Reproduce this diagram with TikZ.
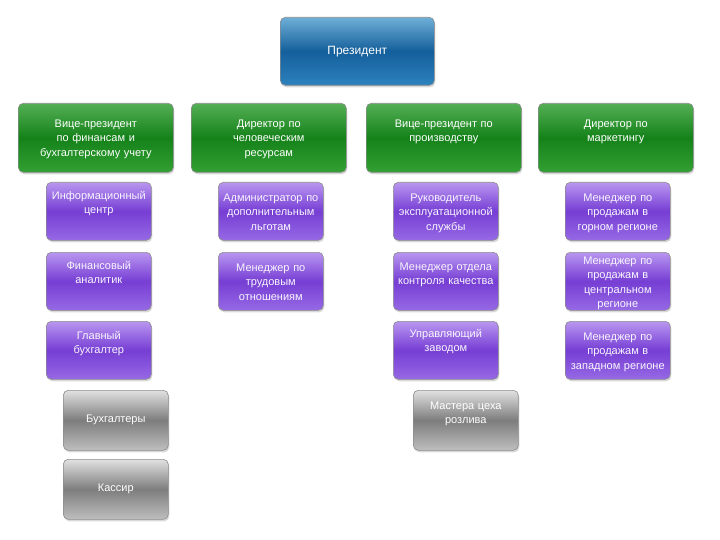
\documentclass[tikz,border=0pt]{standalone}
\usepackage{fontspec}
\newfontfamily\boxfont{Liberation Sans}
\usetikzlibrary{shadows}
\definecolor{blueT}{RGB}{110,175,215}
\definecolor{blueM}{RGB}{20,95,155}
\definecolor{blueB}{RGB}{45,130,190}
\definecolor{greenT}{RGB}{85,175,85}
\definecolor{greenM}{RGB}{20,130,25}
\definecolor{greenB}{RGB}{50,160,50}
\definecolor{purpT}{RGB}{185,150,240}
\definecolor{purpM}{RGB}{118,62,212}
\definecolor{purpB}{RGB}{150,105,228}
\definecolor{grayT}{RGB}{225,225,225}
\definecolor{grayM}{RGB}{125,125,125}
\definecolor{grayB}{RGB}{190,190,190}
\tikzset{
  boxbase/.style={rounded corners=5pt, draw=black!45, line width=0.6pt, text=white,
    align=center, inner sep=0pt, anchor=north west,
    drop shadow={shadow xshift=1pt, shadow yshift=-2pt, opacity=0.3},
    font=\boxfont\fontsize{11}{14.5}\selectfont},
  bluebox/.style={boxbase, top color=blueT, bottom color=blueB, middle color=blueM,
    minimum width=154pt, minimum height=68pt, font=\boxfont\fontsize{12}{14.5}\selectfont},
  greenbox/.style={boxbase, top color=greenT, bottom color=greenB, middle color=greenM,
    minimum width=155pt, minimum height=69pt, text width=150pt,
    text height=24pt, text depth=45pt},
  purpbox/.style={boxbase, top color=purpT, bottom color=purpB, middle color=purpM,
    minimum width=105pt, minimum height=58pt, text width=103pt, text=white!92!purpT},
  ptop/.style={text height=#1pt, text depth=58pt-#1pt},
  graybox/.style={boxbase, top color=grayT, bottom color=grayB, middle color=grayM,
    minimum width=105pt, minimum height=60pt, text width=103pt}
}
\begin{document}
\begin{tikzpicture}[x=1pt, y=-1pt]
\useasboundingbox (0,0) rectangle (720,540);
\node[bluebox] (pres) at (280,17) {Президент};

\node[greenbox] (vpfin) at (18,103) {Вице-президент\\по финансам и\\бухгалтерскому учету};
\node[greenbox] (dirhr) at (191,103) {Директор по\\человеческим\\ресурсам};
\node[greenbox] (vpprod) at (366,103) {Вице-президент по\\производству};
\node[greenbox] (dirmkt) at (538,103) {Директор по\\маркетингу};

\node[purpbox, ptop=17] (info) at (46,182) {Информационный\\центр};
\node[purpbox, ptop=17] (fina) at (46,252) {Финансовый\\аналитик};
\node[purpbox, ptop=18] (glav) at (46,321) {Главный\\бухгалтер};

\node[purpbox, ptop=19] (admin) at (218,182) {Администратор по\\дополнительным\\льготам};
\node[purpbox, ptop=19] (trud) at (218,252) {Менеджер по\\трудовым\\отношениям};

\node[purpbox, ptop=19] (ruk) at (393,182) {Руководитель\\эксплуатационной\\службы};
\node[purpbox, ptop=18] (kach) at (393,252) {Менеджер отдела\\контроля качества};
\node[purpbox, ptop=16] (zavod) at (393,321) {Управляющий\\заводом};

\node[purpbox, ptop=19] (gorn) at (565,182) {Менеджер по\\продажам в\\горном регионе};
\node[purpbox, ptop=12] (centr) at (565,252) {Менеджер по\\продажам в\\центральном\\регионе};
\node[purpbox, ptop=19] (zapad) at (565,321) {Менеджер по\\продажам в\\западном регионе};

\node[graybox] (buh) at (63,390) {Бухгалтеры};
\node[graybox] (kass) at (63,459) {Кассир};
\node[graybox, text height=19pt, text depth=41pt] (master) at (413,390) {Мастера цеха\\розлива};
\end{tikzpicture}
\end{document}
